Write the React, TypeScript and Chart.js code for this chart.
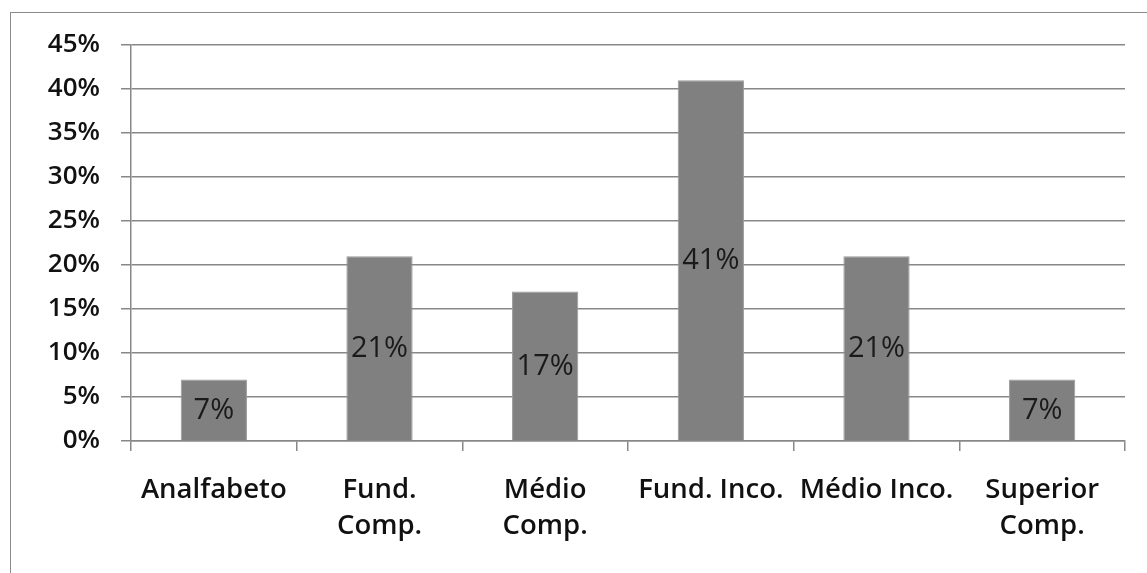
import React, { useEffect, useRef } from "react";
import { Chart, registerables } from "chart.js";

Chart.register(...registerables);

// Escolaridade dos entrevistados (%)
const categories: (string | string[])[] = [
  "Analfabeto",
  ["Fund.", "Comp."],
  ["Médio", "Comp."],
  "Fund. Inco.",
  "Médio Inco.",
  ["Superior", "Comp."],
];
const shares: number[] = [7, 21, 17, 41, 21, 7];
const yTicks: number[] = [0, 5, 10, 15, 20, 25, 30, 35, 40, 45];

const FONT = "'Open Sans', Lato, sans-serif";

// Writes each bar's value in the middle of the bar
const barValueLabels = {
  id: "barValueLabels",
  afterDatasetsDraw(chart: any) {
    const { ctx } = chart;
    const meta = chart.getDatasetMeta(0);
    ctx.save();
    ctx.font = `normal 400 29px ${FONT}`;
    ctx.fillStyle = "#1a1a1a";
    ctx.textAlign = "center";
    ctx.textBaseline = "middle";
    meta.data.forEach((bar: any, i: number) => {
      const { x, y, base } = bar.getProps(["x", "y", "base"], true);
      ctx.fillText(`${shares[i]}%`, x, (y + base) / 2 + 1);
    });
    ctx.restore();
  },
};

export default function App() {
  const canvasRef = useRef<HTMLCanvasElement | null>(null);

  useEffect(() => {
    if (!canvasRef.current) return;
    const chart = new Chart(canvasRef.current, {
      type: "bar",
      data: {
        labels: categories,
        datasets: [
          {
            data: shares,
            backgroundColor: "#808080",
            borderColor: "#9a9a9a",
            borderWidth: 1,
            categoryPercentage: 1,
            barPercentage: 0.4,
          },
        ],
      },
      options: {
        animation: false,
        responsive: false,
        maintainAspectRatio: false,
        layout: { padding: { top: 45, right: 22, left: 0, bottom: 0 } },
        plugins: {
          legend: { display: false },
          tooltip: { enabled: false },
        },
        scales: {
          x: {
            offset: true,
            grid: {
              offset: true,
              drawOnChartArea: false,
              drawTicks: true,
              tickLength: 10,
              color: "#888888",
              lineWidth: 1.5,
            },
            border: { color: "#888888", width: 1.5 },
            ticks: {
              color: "#111111",
              padding: 22,
              maxRotation: 0,
              autoSkip: false,
              font: { family: FONT, size: 27.5, weight: "600", lineHeight: 1.28 },
            },
            afterFit(scale: any) {
              scale.height = 132;
            },
          },
          y: {
            min: 0,
            max: 45,
            afterBuildTicks(scale: any) {
              scale.ticks = yTicks.map((v) => ({ value: v }));
            },
            grid: {
              color: "#888888",
              lineWidth: 1.5,
              tickLength: 10,
            },
            border: { color: "#888888", width: 1.5 },
            ticks: {
              color: "#111111",
              padding: 21,
              font: { family: FONT, size: 26, weight: "600" },
              callback: (v: any) => `${v}%`,
            },
            afterFit(scale: any) {
              scale.width = 131;
            },
          },
        },
      },
      plugins: [barValueLabels],
    });
    return () => chart.destroy();
  }, []);

  return (
    <div
      style={{
        position: "fixed",
        left: 0,
        top: 0,
        width: 1147,
        height: 573,
        background: "#ffffff",
      }}
    >
      <canvas ref={canvasRef} width={1147} height={573} style={{ display: "block" }} />
      <div
        style={{
          position: "absolute",
          left: 10,
          top: 12,
          right: 0,
          bottom: 0,
          borderLeft: "1.5px solid #8a8a8a",
          borderTop: "1.5px solid #8a8a8a",
          pointerEvents: "none",
        }}
      />
    </div>
  );
}
